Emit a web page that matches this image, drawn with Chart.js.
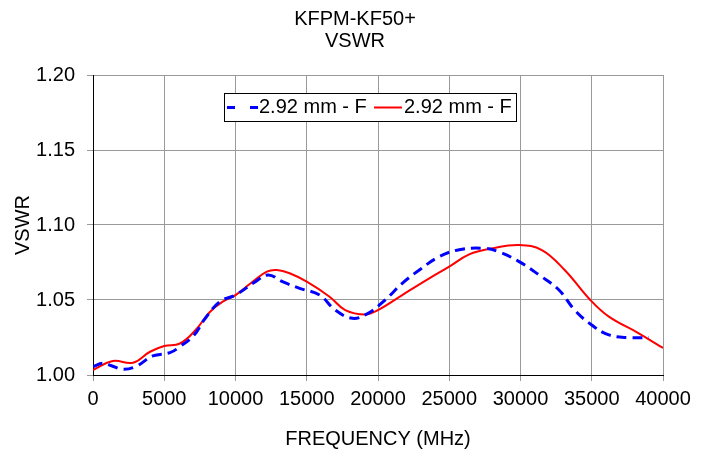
<!DOCTYPE html>
<html>
<head>
<meta charset="utf-8">
<script src="https://cdn.jsdelivr.net/npm/chart.js@4"></script>
<style>
  html, body { margin: 0; padding: 0; background: #fff; }
  #wrap { width: 707px; height: 453px; position: relative; }
</style>
</head>
<body>
<div id="wrap"><canvas id="c" width="707" height="453"></canvas></div>
<script>
const titleLines = ["KFPM-KF50+", "VSWR"];
const xTitle = "FREQUENCY (MHz)";
const yTitle = "VSWR";
const seriesLabels = ["2.92 mm - F", "2.92 mm - F"];

const freqBlue = [0, 700, 1300, 2100, 3000, 4200, 5400, 6100, 7100, 7800, 8900, 10000, 11400, 12300, 13300, 14500, 15900, 17000, 18200, 19300, 20500, 21700, 22900, 24300, 25700, 27500, 28500, 29900, 31300, 32700, 33800, 35000, 36200, 37600, 39000];
const vswrBlue = [1.0056, 1.0078, 1.0062, 1.0038, 1.0056, 1.0127, 1.0149, 1.0189, 1.0267, 1.0367, 1.0489, 1.0533, 1.0622, 1.0667, 1.0622, 1.0578, 1.0533, 1.0433, 1.0378, 1.0411, 1.0500, 1.0611, 1.0700, 1.0789, 1.0835, 1.0844, 1.0820, 1.0756, 1.0667, 1.0567, 1.0433, 1.0333, 1.0267, 1.0249, 1.0250];

const freqRed = [0, 1400, 2800, 4000, 5000, 6100, 7200, 8200, 9100, 10000, 11200, 12200, 12900, 13800, 15000, 16600, 17700, 19100, 20000, 21700, 23600, 25000, 26400, 28000, 29900, 31500, 33100, 34900, 36200, 38300, 40000];
const vswrRed = [1.0033, 1.0093, 1.0082, 1.0155, 1.0193, 1.0210, 1.0300, 1.0420, 1.0489, 1.0533, 1.0622, 1.0689, 1.0700, 1.0678, 1.0622, 1.0522, 1.0433, 1.0404, 1.0433, 1.0533, 1.0644, 1.0722, 1.0804, 1.0844, 1.0867, 1.0833, 1.0700, 1.0500, 1.0389, 1.0278, 1.0180];

const xMin = 0, xMax = 40000, xStep = 5000;
const yMin = 1.00, yMax = 1.20, yStep = 0.05;

const FONT = "'Liberation Sans', Arial, sans-serif";

const toPts = (xs, ys) => xs.map((x, i) => ({ x: x, y: ys[i] }));

const overlay = {
  id: 'overlay',
  afterDraw(chart) {
    const ctx = chart.ctx;
    ctx.save();
    ctx.fillStyle = '#000';
    ctx.font = '20px ' + FONT;
    ctx.textAlign = 'center';
    ctx.textBaseline = 'alphabetic';
    ctx.fillText(titleLines[0], 355, 25);
    ctx.fillText(titleLines[1], 355, 46.5);

    const bx = 224.5, by = 93.5, bw = 292, bh = 28;
    ctx.fillStyle = '#fff';
    ctx.fillRect(bx, by, bw, bh);
    ctx.strokeStyle = '#000';
    ctx.lineWidth = 1;
    ctx.strokeRect(bx, by, bw, bh);

    const ds = chart.data.datasets;
    ctx.strokeStyle = ds[0].borderColor;
    ctx.lineWidth = 3;
    ctx.setLineDash([8, 15]);
    ctx.beginPath();
    ctx.moveTo(227, 107.5);
    ctx.lineTo(258, 107.5);
    ctx.stroke();
    ctx.setLineDash([]);
    ctx.strokeStyle = ds[1].borderColor;
    ctx.lineWidth = 2;
    ctx.beginPath();
    ctx.moveTo(374, 107.5);
    ctx.lineTo(402, 107.5);
    ctx.stroke();

    ctx.fillStyle = '#000';
    ctx.font = '20px ' + FONT;
    ctx.textAlign = 'left';
    ctx.textBaseline = 'alphabetic';
    ctx.fillText(ds[0].label, 259, 113.3);
    ctx.fillText(ds[1].label, 404, 113.3);
    ctx.restore();
  }
};

new Chart(document.getElementById('c'), {
  type: 'line',
  data: {
    datasets: [
      {
        label: seriesLabels[0],
        data: toPts(freqBlue, vswrBlue),
        borderColor: '#0000ff',
        borderWidth: 3,
        borderDash: [10, 6],
        pointRadius: 0,
        fill: false,
        tension: 0.4
      },
      {
        label: seriesLabels[1],
        data: toPts(freqRed, vswrRed),
        borderColor: '#ff0000',
        borderWidth: 2,
        pointRadius: 0,
        fill: false,
        tension: 0.4
      }
    ]
  },
  options: {
    responsive: false,
    animation: false,
    devicePixelRatio: 1,
    layout: { padding: { top: 75, right: 44, bottom: 0, left: 0 } },
    plugins: {
      legend: { display: false },
      title: { display: false },
      tooltip: { enabled: false }
    },
    scales: {
      x: {
        type: 'linear',
        min: xMin, max: xMax,
        ticks: {
          stepSize: xStep,
          color: '#000',
          font: { family: FONT, size: 20 },
          padding: 6,
          maxRotation: 0,
          autoSkip: false,
          callback: v => String(v)
        },
        grid: { color: '#999999', tickColor: '#999999', tickLength: 6, lineWidth: 1 },
        border: { color: '#000', width: 1 },
        title: { display: true, text: xTitle, color: '#000', font: { family: FONT, size: 20 }, padding: { top: 0, bottom: 2 } },
        afterFit: s => { s.height = 78; }
      },
      y: {
        type: 'linear',
        min: yMin, max: yMax,
        ticks: {
          stepSize: yStep,
          color: '#000',
          font: { family: FONT, size: 20 },
          padding: 12,
          callback: v => v.toFixed(2)
        },
        grid: { color: '#999999', tickColor: '#999999', tickLength: 6, lineWidth: 1 },
        border: { color: '#000', width: 1 },
        title: { display: true, text: yTitle, color: '#000', font: { family: FONT, size: 20 }, padding: { top: 11, bottom: 0 } },
        afterFit: s => { s.width = 93; }
      }
    }
  },
  plugins: [overlay]
});
</script>
</body>
</html>
